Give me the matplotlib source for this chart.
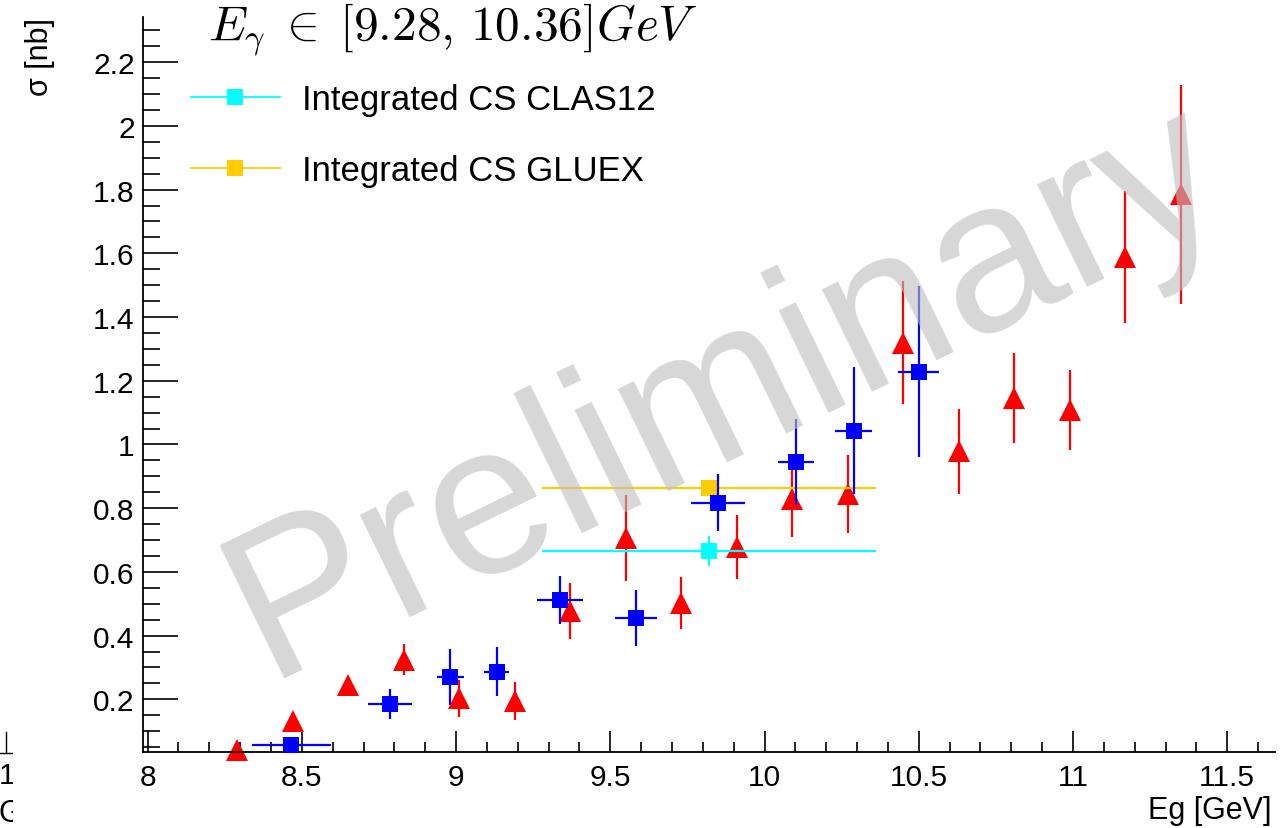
#!/usr/bin/env python3
"""Integrated cross section vs photon energy, CLAS12 / GlueX comparison."""

import matplotlib
matplotlib.use("Agg")
import matplotlib.pyplot as plt
from matplotlib.lines import Line2D
from matplotlib.ticker import MultipleLocator, FuncFormatter

plt.rcParams["font.family"] = ["Liberation Sans", "DejaVu Sans"]
plt.rcParams["mathtext.fontset"] = "cm"

# blue squares: binned cross section with energy-bin widths
blue_x = [8.465, 8.786, 8.981, 9.132, 9.337, 9.583, 9.850, 10.102, 10.290, 10.500]
blue_xerr = [0.128, 0.070, 0.044, 0.040, 0.076, 0.068, 0.087, 0.059, 0.060, 0.066]
blue_y = [0.055, 0.185, 0.270, 0.287, 0.512, 0.455, 0.817, 0.945, 1.043, 1.229]
blue_yerr = [0.015, 0.047, 0.089, 0.076, 0.075, 0.088, 0.089, 0.135, 0.200, 0.269]

# red triangles
red_x = [8.29, 8.47, 8.65, 8.83, 9.01, 9.19, 9.37, 9.55, 9.73,
         9.91, 10.09, 10.27, 10.45, 10.63, 10.81, 10.99, 11.17, 11.35]
red_y = [0.040, 0.133, 0.246, 0.324, 0.203, 0.195, 0.478, 0.706, 0.502,
         0.679, 0.829, 0.844, 1.319, 0.979, 1.145, 1.108, 1.588, 1.785]
red_yerr = [0.02, 0.02, 0.02, 0.049, 0.059, 0.059, 0.088, 0.135, 0.081,
            0.100, 0.120, 0.123, 0.193, 0.133, 0.141, 0.126, 0.207, 0.344]

# integrated values over [9.28, 10.36] GeV
e_lo, e_hi = 9.28, 10.36
clas_y, clas_yerr = 0.665, 0.048
gluex_y, gluex_yerr = 0.863, 0.008

W, H = 1281, 829
fig = plt.figure(figsize=(W / 100, H / 100), dpi=100)
ax = fig.add_axes([143 / W, 76 / H, (1275 - 143) / W, (753 - 18) / H])


def draw_err(x, y, xerr, yerr, color, marker, ms, z):
    cont = ax.errorbar(x, y, xerr=xerr, yerr=yerr, fmt=marker, color=color,
                       ms=ms, mew=0, elinewidth=1.6, capsize=2.2, capthick=1.6,
                       zorder=z)
    for art in cont.get_children():
        art.set_clip_on(False)
    return cont


draw_err(red_x, red_y, None, red_yerr, "red", "^", 16, 2)
e_mid = 0.5 * (e_lo + e_hi)
e_half = 0.5 * (e_hi - e_lo)
draw_err([e_mid], [clas_y], [e_half], [clas_yerr], "cyan", "s", 12, 3)
draw_err([e_mid], [gluex_y], [e_half], [gluex_yerr], "#ffcc00", "s", 12, 3)
draw_err(blue_x, blue_y, blue_xerr, blue_yerr, "blue", "s", 11, 4)

ax.set_xlim(7.985, 11.655)
ax.set_ylim(0.0345, 2.342)
for side in ("top", "right"):
    ax.spines[side].set_visible(False)
for side in ("left", "bottom"):
    ax.spines[side].set_linewidth(1.3)

ax.xaxis.set_major_locator(MultipleLocator(0.5))
ax.xaxis.set_minor_locator(MultipleLocator(0.1))
ax.yaxis.set_major_locator(MultipleLocator(0.2))
ax.yaxis.set_minor_locator(MultipleLocator(0.05))
fmt = FuncFormatter(lambda v, _: f"{v:g}")
ax.xaxis.set_major_formatter(fmt)
ax.yaxis.set_major_formatter(fmt)
ax.tick_params(axis="x", which="major", direction="in", length=15, width=1.2,
               labelsize=21.5, pad=8)
ax.tick_params(axis="x", which="minor", direction="in", length=7.5, width=1.2)
ax.tick_params(axis="y", which="major", direction="in", length=25, width=1.2,
               labelsize=21.5, pad=6)
ax.tick_params(axis="y", which="minor", direction="in", length=12.5, width=1.2)

fig.text(40 / W, 1 - 18 / H, "σ [nb]", rotation=90, ha="center", va="top",
         fontsize=22)
fig.text(1272 / W, 1 - 819 / H, "Eg [GeV]", ha="right", va="baseline",
         fontsize=22)
fig.text(208 / W, 1 - 40 / H, r"$E_{\gamma}\;\in\;[9.28,\,10.36]GeV$",
         ha="left", va="baseline", fontsize=35.5)

handles = [
    Line2D([], [], color="cyan", lw=1.3, marker="s", ms=12, mew=0),
    Line2D([], [], color="#ffcc00", lw=1.3, marker="s", ms=12, mew=0),
]
ax.legend(handles, ["Integrated CS CLAS12", "Integrated CS GLUEX"],
          loc="upper left", bbox_to_anchor=(191 / W, 1 - 84 / H),
          bbox_transform=fig.transFigure, frameon=False, fontsize=25,
          handlelength=2.55, handletextpad=0.65, labelspacing=1.1,
          borderaxespad=0, borderpad=0)

# watermark over the data, anchored at the left end of its baseline
fig.text(267 / W, 1 - 679 / H, "Preliminary", rotation=26, ha="left",
         va="baseline", fontsize=155, color=(0.745, 0.745, 0.745), alpha=0.62,
         rotation_mode="anchor", zorder=10)

# edge of the neighbouring pad
edge = fig.add_axes([0, 0, 13 / W, 1])
edge.set_xlim(0, 13)
edge.set_ylim(H, 0)
edge.axis("off")
edge.plot([6, 6], [733, 754], color="black", lw=1.0)
edge.plot([0, 13], [754, 754], color="black", lw=1.0)
edge.text(-1, 776, "1", ha="left", va="center", fontsize=21.5, clip_on=True)
edge.text(-1, 822, "Ge", ha="left", va="baseline", fontsize=22, clip_on=True)

fig.savefig("out.png", dpi=100)
